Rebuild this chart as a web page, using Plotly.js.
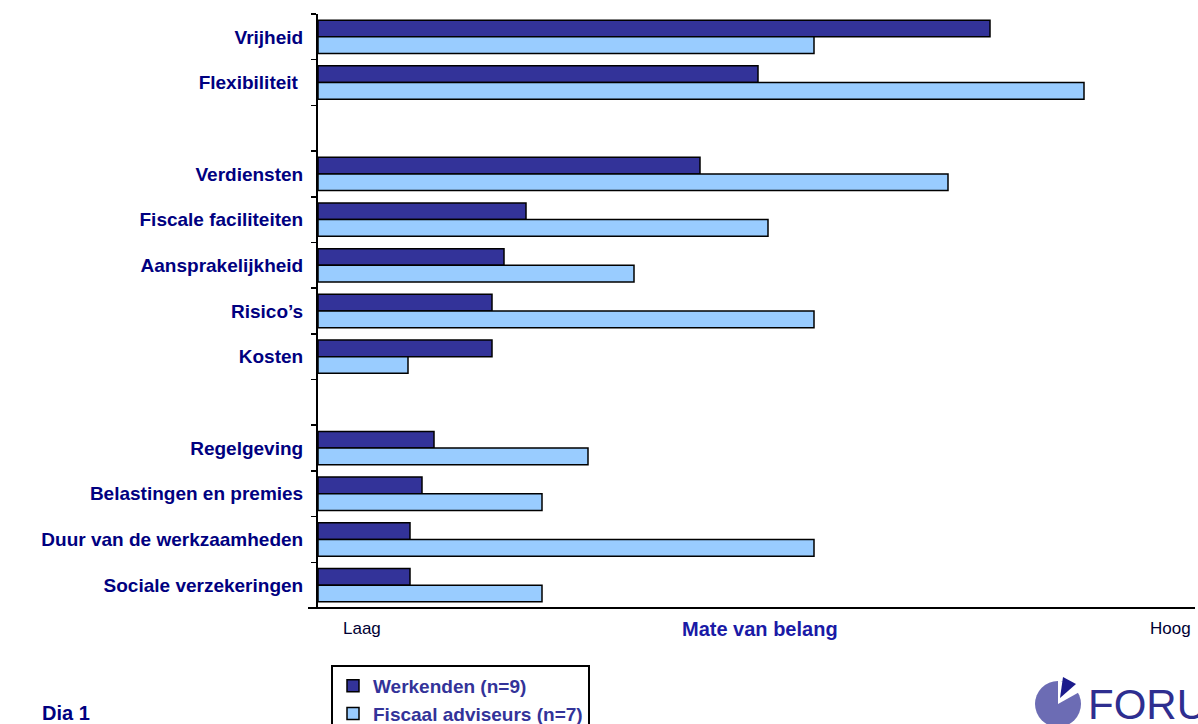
<!DOCTYPE html>
<html>
<head>
<meta charset="utf-8">
<script src="https://cdn.plot.ly/plotly-3.0.1.min.js"></script>
<style>html,body{margin:0;padding:0;background:#fff;}#chart{width:1198px;height:724px;}</style>
</head>
<body>
<div id="chart"></div>
<script>
// Category slots, top to bottom (blank strings are empty separator rows)
const categories = [
  "Vrijheid", "Flexibiliteit ", " ",
  "Verdiensten", "Fiscale faciliteiten", "Aansprakelijkheid", "Risico\u2019s", "Kosten", "  ",
  "Regelgeving", "Belastingen en premies", "Duur van de werkzaamheden", "Sociale verzekeringen"
];
const barCategories = [
  "Vrijheid", "Flexibiliteit ",
  "Verdiensten", "Fiscale faciliteiten", "Aansprakelijkheid", "Risico\u2019s", "Kosten",
  "Regelgeving", "Belastingen en premies", "Duur van de werkzaamheden", "Sociale verzekeringen"
];
const werkenden = [672, 440, 382, 208, 186, 174, 174, 116, 104, 92, 92];
const fiscaal   = [496, 766, 630, 450, 316, 496, 90, 270, 224, 496, 224];
const seriesNames = ["Werkenden (n=9)", "Fiscaal adviseurs (n=7)"];
const xLabels = ["Laag", "Mate van belang", "Hoog"];

const FONT = "Liberation Sans, Arial, sans-serif";
const NARROW = "Liberation Sans Narrow, Arial Narrow, Liberation Sans, sans-serif";

const traces = [
  {type: "bar", orientation: "h", name: seriesNames[0], y: barCategories, x: werkenden,
   marker: {color: "#333399", line: {color: "#000000", width: 1.5}}},
  {type: "bar", orientation: "h", name: seriesNames[1], y: barCategories, x: fiscaal,
   marker: {color: "#99CCFF", line: {color: "#000000", width: 1.5}}}
];

// helpers to convert figure pixels to paper coordinates (plot area 318..1195 x 14..608)
const PX = p => (p - 318) / 877;
const PY = p => (608 - p) / 594;

const layout = {
  width: 1198, height: 724,
  margin: {l: 318, r: 3, t: 14, b: 116, autoexpand: false},
  paper_bgcolor: "#ffffff", plot_bgcolor: "#ffffff",
  barmode: "group", bargap: 0.27, bargroupgap: 0,
  showlegend: true,
  legend: {
    x: PX(331), xanchor: "left", y: PY(665), yanchor: "top",
    bordercolor: "#000000", borderwidth: 2, bgcolor: "#ffffff",
    font: {family: FONT, size: 19, color: "#333399", weight: "bold"},
    traceorder: "normal", itemwidth: 30, tracegroupgap: 0
  },
  xaxis: {
    range: [0, 877], showticklabels: false, showgrid: false, zeroline: false,
    showline: false, ticks: ""
  },
  yaxis: {
    type: "category", categoryorder: "array", categoryarray: categories,
    range: [categories.length - 0.5, -0.5],
    tickvals: categories, ticktext: categories,
    tickson: "boundaries", ticks: "outside", ticklen: 5, tickwidth: 1.5, tickcolor: "#000000",
    showline: true, linecolor: "#000000", linewidth: 2, showgrid: false, zeroline: false,
    ticklabelstandoff: 9,
    tickfont: {family: FONT, size: 19, color: "#000080", weight: "bold"}
  },
  shapes: [
    {type: "line", xref: "paper", yref: "paper", x0: PX(308), x1: PX(1195), y0: 0, y1: 0,
     line: {color: "#000000", width: 2}},
    // logo: pie disc with a detached wedge
    {type: "circle", xref: "paper", yref: "paper", x0: PX(1035), x1: PX(1081), y0: PY(727), y1: PY(681),
     fillcolor: "#6c6cb4", line: {width: 0}},
    {type: "path", xref: "paper", yref: "paper",
     path: `M ${PX(1058)} ${PY(704)} L ${PX(1058)} ${PY(680)} L ${PX(1083)} ${PY(690)} Z`,
     fillcolor: "#ffffff", line: {width: 0}},
    {type: "path", xref: "paper", yref: "paper",
     path: `M ${PX(1060)} ${PY(698)} L ${PX(1063)} ${PY(677)} L ${PX(1076)} ${PY(684)} Z`,
     fillcolor: "#1c1c8c", line: {width: 0}}
  ],
  annotations: [
    {text: xLabels[0], xref: "paper", yref: "paper", x: PX(362), y: PY(629), showarrow: false,
     xanchor: "center", yanchor: "middle",
     font: {family: NARROW, size: 17, color: "#000033"}},
    {text: xLabels[1], xref: "paper", yref: "paper", x: PX(760), y: PY(629), showarrow: false,
     xanchor: "center", yanchor: "middle",
     font: {family: NARROW, size: 20, color: "#1a1aa6", weight: "bold"}},
    {text: xLabels[2], xref: "paper", yref: "paper", x: PX(1170), y: PY(629), showarrow: false,
     xanchor: "center", yanchor: "middle",
     font: {family: NARROW, size: 17, color: "#000033"}},
    {text: "Dia 1", xref: "paper", yref: "paper", x: PX(40), y: PY(713), showarrow: false,
     xanchor: "left", yanchor: "middle",
     font: {family: FONT, size: 20, color: "#000080", weight: "bold"}},
    {text: "FORUM", xref: "paper", yref: "paper", x: PX(1086), y: PY(704), showarrow: false,
     xanchor: "left", yanchor: "middle",
     font: {family: FONT, size: 42, color: "#2e2e90"}}
  ]
};

Plotly.newPlot("chart", traces, layout, {displayModeBar: false, staticPlot: true});
</script>
</body>
</html>
